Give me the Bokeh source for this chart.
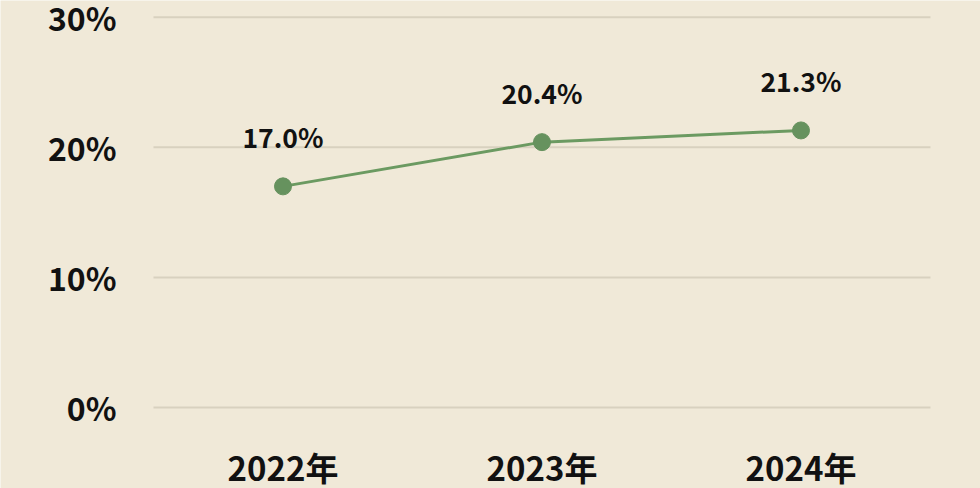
from bokeh.plotting import figure
from bokeh.models import ColumnDataSource, Range1d
from bokeh.core.properties import value
from bokeh.embed import file_html
from bokeh.resources import INLINE

years = ["2022年", "2023年", "2024年"]
rates = [17.0, 20.4, 21.3]
rate_labels = ["17.0%", "20.4%", "21.3%"]
y_ticks = [0, 10, 20, 30]
y_tick_labels = ["0%", "10%", "20%", "30%"]

BG = "#f0e9d8"
FONT = "Noto Sans CJK JP"

idx = list(range(len(years)))          # category positions
band_lo, band_hi = -0.5, len(years) - 0.5   # category band edges

src = ColumnDataSource(dict(x=idx, y=rates, lab=rate_labels))
xsrc = ColumnDataSource(dict(x=idx, y=[y_ticks[0]] * len(years), lab=years))
ysrc = ColumnDataSource(dict(y=y_ticks, lab=y_tick_labels,
                             x0=[band_lo] * len(y_ticks), x1=[band_hi] * len(y_ticks)))

p = figure(width=980, height=488, x_range=Range1d(-1.0907, 2.6931), y_range=Range1d(-6.23, 31.29),
           output_backend="svg", toolbar_location=None, min_border=0)
p.background_fill_color = BG
p.border_fill_color = BG
p.outline_line_color = None
p.xaxis.visible = False
p.yaxis.visible = False
p.xgrid.visible = False
p.ygrid.visible = False

# horizontal grid lines at the y ticks, spanning the category bands
p.segment("x0", "y", "x1", "y", source=ysrc, line_color="#d8d1bf", line_width=2)

# y tick labels
p.text("x0", "y", text="lab", source=ysrc, x_offset=-37, text_align="right",
       text_baseline="middle", text_font=value(FONT), text_font_size="32px",
       text_font_style="bold", text_color="#111111")

# category labels under the 0% line
p.text("x", "y", text="lab", source=xsrc, y_offset=60, text_align="center",
       text_baseline="middle", text_font=value(FONT), text_font_size="33px",
       text_font_style="bold", text_color="#111111")

p.line("x", "y", source=src, line_color="#6b9a61", line_width=3)
p.scatter("x", "y", source=src, size=17, fill_color="#66925e", line_color="#66925e")
p.text("x", "y", text="lab", source=src, y_offset=-50, text_align="center",
       text_baseline="middle", text_font=value(FONT),
       text_font_size="26.5px", text_font_style="bold", text_color="#111111")

html = file_html(p, INLINE)
html = html.replace("<body>", '<body style="background:%s;">' % BG, 1)
open("out.html", "w").write(html)
